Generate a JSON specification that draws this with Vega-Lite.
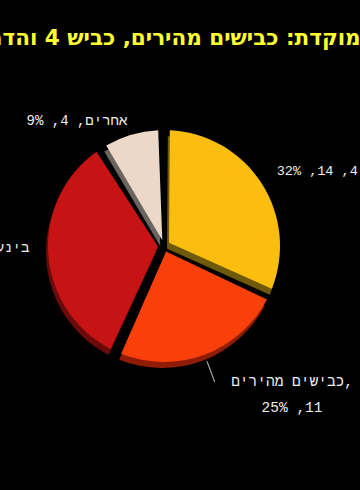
{
  "$schema": "https://vega.github.io/schema/vega-lite/v6.json",
  "width": 328,
  "height": 368,
  "autosize": {"type": "none"},
  "padding": {"left": 0, "top": 62, "right": 32, "bottom": 60},
  "background": "#000000",
  "config": {"view": {"stroke": null}},
  "title": {
    "text": "אכיפה ממוקדת: כבישים מהירים, כביש 4 והדרום",
    "color": "#ffff33",
    "font": "DejaVu Sans",
    "fontWeight": "bold",
    "fontSize": 21.5,
    "anchor": "middle",
    "dx": 43,
    "offset": -4,
    "baseline": "alphabetic"
  },
  "data": {
    "values": [
      {"category": "כביש 4", "value": 14, "order": 1, "label": "כביש 4, 14, 32%"},
      {"category": "כבישים מהירים", "value": 11, "order": 2, "label": "כבישים מהירים,\n\u200f11, 25%"},
      {"category": "בינעירוניים", "value": 15, "order": 3, "label": "בינעירוניים, 15, 34%"},
      {"category": "אחרים", "value": 4, "order": 4, "label": "אחרים, 4, 9%"}
    ]
  },
  "encoding": {
    "theta": {"field": "value", "type": "quantitative", "stack": true},
    "order": {"field": "order", "type": "quantitative"}
  },
  "layer": [
    {
      "mark": {"type": "arc", "radius": 116, "innerRadius": 6, "padAngle": 0.1, "xOffset": -2, "yOffset": 6},
      "encoding": {
        "color": {
          "field": "category", "type": "nominal", "legend": null,
          "scale": {"domain": ["כביש 4", "כבישים מהירים", "בינעירוניים", "אחרים"], "range": ["#6e5a0a", "#901c05", "#6a0a0a", "#6b6560"]}
        }
      }
    },
    {
      "mark": {"type": "arc", "radius": 116, "innerRadius": 6, "padAngle": 0.1},
      "encoding": {
        "color": {
          "field": "category", "type": "nominal", "legend": null,
          "scale": {"domain": ["כביש 4", "כבישים מהירים", "בינעירוניים", "אחרים"], "range": ["#fbbe0e", "#f93f0a", "#c71313", "#edd8c7"]}
        }
      }
    },
    {
      "mark": {"type": "arc", "filled": false, "stroke": "#9a9a9a", "strokeWidth": 1, "innerRadius": 123, "radius": 145, "padAngle": 3},
      "encoding": {
        "strokeOpacity": {"condition": {"test": "datum.category === 'כבישים מהירים'", "value": 1}, "value": 0}
      }
    },
    {
      "mark": {"type": "text", "radius": 134, "align": "left", "baseline": "middle", "dy": -3, "font": "Liberation Mono", "fontSize": 13.5, "fill": "#eeeeee"},
      "encoding": {"text": {"condition": {"test": "datum.category === 'כביש 4'", "field": "label"}, "value": ""}}
    },
    {
      "mark": {"type": "text", "radius": 130, "align": "right", "baseline": "middle", "font": "Liberation Mono", "fontSize": 14, "fill": "#eeeeee"},
      "encoding": {"text": {"condition": {"test": "datum.category === 'אחרים'", "field": "label"}, "value": ""}}
    },
    {
      "mark": {"type": "text", "radius": 135, "align": "right", "baseline": "middle", "dy": -8, "font": "Liberation Mono", "fontSize": 14, "fill": "#eeeeee"},
      "encoding": {"text": {"condition": {"test": "datum.category === 'בינעירוניים'", "field": "label"}, "value": ""}}
    },
    {
      "mark": {"type": "text", "radius": 149, "align": "center", "baseline": "alphabetic", "dx": 76, "dy": 0, "lineBreak": "\n", "lineHeight": 26, "font": "Liberation Mono", "fontSize": 14.5, "fill": "#eeeeee"},
      "encoding": {"text": {"condition": {"test": "datum.category === 'כבישים מהירים'", "field": "label"}, "value": ""}}
    }
  ],
  "resolve": {"scale": {"color": "independent"}}
}
